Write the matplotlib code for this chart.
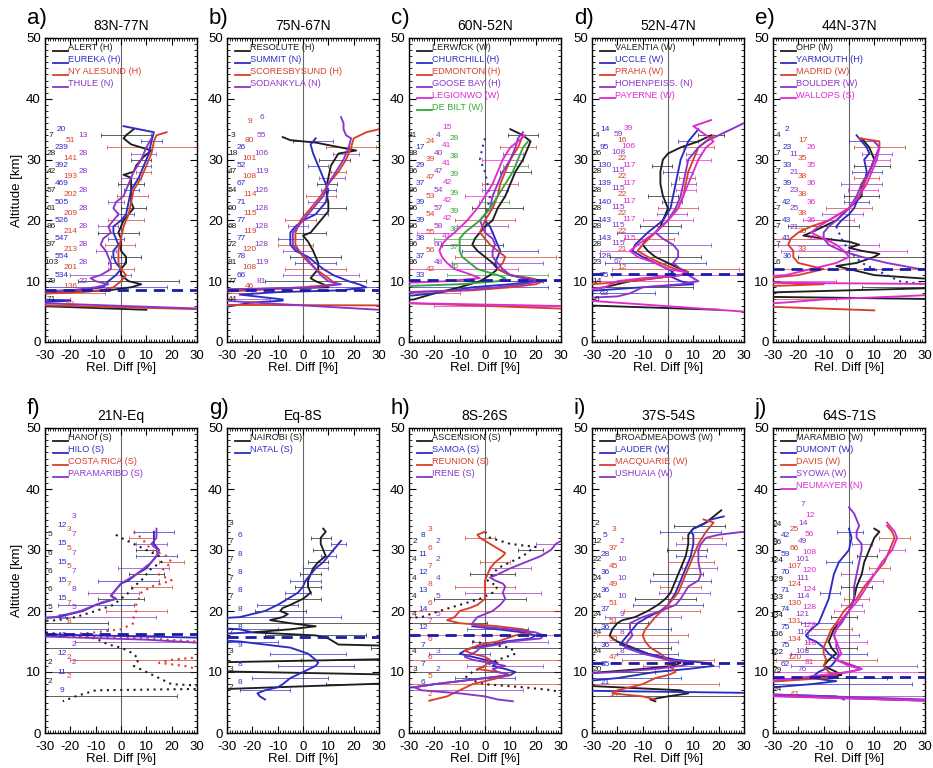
import numpy as np
import matplotlib
matplotlib.use("Agg")
import matplotlib.pyplot as plt
from matplotlib.ticker import MultipleLocator

plt.rcParams['font.family'] = ['Liberation Sans', 'DejaVu Sans']
plt.rcParams['axes.unicode_minus'] = False

K = '#1e1e1e'; B = '#2c2cc4'; R = '#d8402c'; P = '#8a35c8'; M = '#e02ad0'; G = '#33a83a'

# ---------------- panel a: 83N-77N ----------------
STA_A = ["ALERT (H)", "EUREKA (H)", "NY ALESUND (H)", "THULE (N)"]
ALERT = [(35,5),(34,2),(33.5,1),(32.5,4),(31.5,12),(30.5,9),(29,6),(28,5),(27.5,1),(27,4),(25,4),(23,4),(22,5),(21,3),(20,1),(18,-1),(17,0),(15,0),(14,2),(13,2),(12,0),(11,0),(10,3),(9.5,8),(9,4),(8.5,-5),(8,-30),(7.5,-45),(6.1,-45),(5.3,10)]
EUREKA = [(35.5,1),(35,7),(34.5,13),(33,12),(31,11),(29,9),(27,7),(25,4),(23,3),(21,2),(20,0),(19,-3),(18,-3),(17,-2),(16,-1),(15,-3),(14,-3),(13,-2),(12,0),(11,-2),(10,-5),(9,-7),(8.6,-15),(8.3,-30),(8,-45),(7.2,-45),(6.8,-20),(6.2,-45)]
NYALESUND = [(34.5,18),(34,14),(33,13),(31,12),(29,10),(27,8),(25,5),(23,4),(21,3),(19,1),(17,0),(15,-1),(13,-1),(12,0),(11,2),(10,0),(9,-3),(8.5,-8),(8.1,-20),(7.8,-45),(6.2,-45),(5.4,30),(5.3,45)]
THULE = [(33.5,12),(32,10),(30,8),(28,5),(26,3),(24,1),(23,-2),(22,-3),(21,-1),(20,-3),(19,-5),(18,-4),(17,-7),(16,-8),(15,-6),(14,-5),(13,-4),(12,-4),(11,-8),(10.5,-12),(10,-10),(9.5,-5),(9,-10),(8.5,-20),(8.2,-45),(6.5,-45),(6.3,-25),(5.3,45)]
N_A = [[7,28,42,57,61,86,97,103,79,71],[20,239,392,469,505,526,547,554,534],[51,141,193,202,209,214,213,201,136,63],[13,28,28,28,28,28,28,28,22]]
NX_A = [-27.5,-23.5,-20,-15]
NY_A = [34,35,33.2,34]
ERR_A = [10,4,18,5,4,3,3,4,5,3,6,3,5,3,7,4,8,3,6,4,6,3,5,12,20,25,22,25,30]

# ---------------- panel b: 75N-67N ----------------
STA_B = ["RESOLUTE (H)", "SUMMIT (N)", "SCORESBYSUND (H)", "SODANKYLA (N)"]
RESOLUTE = [(33.7,-8),(33.2,-5),(32.8,5),(31.5,21),(31,14),(29,11),(27,10),(25,9),(23,10),(21.5,10),(20.5,8),(19,5),(18,3),(17.5,0),(16.5,2),(15,4),(13,6),(12,6),(11,4),(10.5,3),(10,5),(9.5,8),(9,10),(8.8,-10),(8.5,-45)]
SUMMIT = [(33.5,5),(32.5,3),(31,4),(29,6),(27,8),(25,10),(23,9),(21,5),(20,0),(19,-3),(18,-5),(17,-5),(16,-5),(15,-3),(14,2),(13,5),(12,8),(11,12),(10,18),(9.5,22),(9,25),(8.5,15),(8.2,-10),(7.8,-25),(7,-8),(6.8,-8),(6.5,-20),(5.8,-30)]
SCORESBY = [(35,30),(34.5,25),(33.5,20),(32,19),(30,17),(28,14),(26,10),(24,7),(22,3),(20,-1),(18,-3),(16,-3),(14,0),(12,5),(10.5,10),(9.5,13),(9,0),(8.5,-20),(8,-45),(6.3,-45),(6.1,-30),(6.0,45)]
SODANKYLA = [(37,15),(36,16),(35,16),(34,17),(33.5,19),(32,18),(30,16),(28,13),(26,10),(24,8),(22,4),(20,0),(19,-2),(18,-4),(17,-4),(16,-4),(15,-2),(14,1),(12,5),(11,7),(10,10),(9.5,15),(9,5),(8.5,-45),(7.2,-45),(6.5,-20),(5.3,30)]
N_B = [[3,18,47,54,60,68,72,81,77,44],[26,52,67,71,77,77,78,66],[9,80,101,108,114,115,119,120,108,46,23],[6,55,106,119,126,128,128,128,119,81]]
NX_B = [-27.8,-24.3,-21,-16.3]
NY_B = [34,32,36.2,37]
ERR_B = [6,8,10,5,6,4,3,5,4,3,6,4,7,5,6,4,6,5,7,6,10,8,12,15,20,22,25,25,30]

# ---------------- panel c: 60N-52N ----------------
STA_C = ["LERWICK (W)", "CHURCHILL (H)", "EDMONTON (H)", "GOOSE BAY (H)", "LEGIONWO (W)", "DE BILT (W)"]
LERWICK = [(35,10),(34,15),(33,18),(32,17),(30,15),(28,12),(26,10),(24,8),(22,5),(20,3),(19,0),(18,-2),(17,-4),(16,-5),(15,-3),(14,0),(13,3),(12,5),(11,2),(10,-2),(9,-10),(8,-20),(7,-28),(6.5,-45)]
CHURCHILL_UP = [(33.5,0),(32,-1),(30,-2),(28,0),(26,1),(24,2),(22,1),(20,0)]
CHURCHILL = [(20,0),(19,2),(18,3),(17,4),(16,5),(15,6),(14,5),(13,4),(12,5),(11,10),(10.5,15),(10,20),(9.5,10),(9,-5),(8,-20),(7,-45)]
EDMONTON = [(34,15),(32,13),(30,10),(28,8),(26,6),(24,5),(22,3),(20,0),(18,-2),(17,0),(16,2),(15,5),(14,8),(13,7),(12,5),(11,10),(10.5,18),(10,23),(9.5,20),(9,10),(8.5,-5),(8,-45),(6.6,-45),(5.5,30)]
GOOSEBAY = [(34.5,15),(33.5,13),(32,12),(30,10),(28,7),(26,5),(24,3),(22,2),(21,0),(20,-2),(19,-1),(18,0),(17,3),(16,4),(15,3),(14,3),(13,5),(12,7),(11,10),(10,22),(9.5,15),(9,5),(8.5,-10),(8,-45)]
LEGIONWO = [(34,16),(33,13),(32,10),(30,7),(28,5),(26,3),(24,0),(22,-3),(20,-7),(18,-12),(17,-15),(16,-17),(15,-18),(14,-17),(13,-15),(12,-12),(11,-5),(10.5,-2),(10,-15),(9.5,-45),(6.5,-45),(6,20),(5.8,45)]
DEBILT = [(33,17),(32,15),(30,13),(28,11),(26,8),(24,5),(22,2),(20,-2),(19,-5),(18,-8),(17,-10),(16,-10),(15,-10),(14,-9),(13,-6),(12,-3),(11,5),(10.5,8),(10,5),(9.5,-10),(9,-45)]
N_C = [[31,88,96,96,96,96,96,86],[17,29,37,39,39,38,37,33],[24,39,47,53,54,55,56,42],[4,40,47,54,57,58,60,48],[15,41,41,42,42,42,41],[28,38,39,39,39,38,37,26]]
NX_C = [-28.5,-25.5,-21.5,-18.5,-15,-12]
NY_C = [34,32,33,34,35.3,33.5]
ERR_C = [6,5,7,4,8,5,6,4,7,5,8,6,10,8,12,10,15,10,12,15,20,18,25,20,25,30,35,40,40]

# ---------------- panel d: 52N-47N ----------------
STA_D = ["VALENTIA (W)", "UCCLE (W)", "PRAHA (W)", "HOHENPEISS. (N)", "PAYERNE (W)"]
VALENTIA = [(34,17),(33,12),(32,5),(31,0),(30,-2),(28,-3),(26,-3),(24,-2),(22,0),(20,-2),(19,-3),(18,-5),(17,-8),(16,-10),(15,-8),(14,-5),(13,0),(12,5),(11.5,8),(11,5),(10.5,-5),(10,-15),(9,-25),(8,-45),(6.2,-45),(5.3,20)]
UCCLE = [(35,12),(34,10),(33,8),(32,7),(30,5),(28,4),(26,3),(24,2),(22,1),(20,-2),(18,-8),(16,-13),(15,-14),(14,-10),(13,-5),(12,0),(11.5,2),(11,0),(10,5),(9.5,10),(9,-10),(8,-45)]
PRAHA = [(34,18),(33,15),(32,12),(30,10),(28,8),(26,7),(24,6),(22,4),(20,0),(18,-5),(16,-10),(15,-12),(14,-8),(13,-3),(12,3),(11.5,8),(11,5),(10.5,-5),(10,-15),(9,-45)]
HOHENP = [(36,30),(35,25),(34,20),(33,15),(32,12),(30,8),(28,7),(26,6),(24,5),(22,3),(20,0),(18,-5),(17,-2),(16,2),(15,4),(14,4),(13,2),(12,5),(11,8),(10,12),(9.5,5),(9,-10),(8,-15),(7.5,-20),(7,-45)]
PAYERNE = [(36.5,17),(35.5,10),(34,15),(33,18),(32,15),(30,12),(28,10),(26,8),(24,6),(22,4),(20,0),(18,-5),(16,-12),(15,-15),(14,-12),(13,-5),(12,0),(11.5,7),(11,5),(10.5,-10),(10,-20),(9,-25),(8,-45),(7.2,-45),(5,30)]
N_D = [[4,26,28,28,28,28,28,23,14,6],[14,95,130,139,140,143,143,128,75,63],[16,22,22,22,22,22,21,12],[59,108,115,115,115,115,115,67],[39,106,117,117,117,117,115]]
NX_D = [-28,-25,-18,-19.5,-15.5]
NY_D = [34,35,33.2,34.2,35.1]
ERR_D = [5,4,6,3,5,4,6,3,5,4,6,4,8,6,10,8,12,10,15,12,18,20,25,30,30,35,40,40,40]

# ---------------- panel e: 44N-37N ----------------
STA_E = ["OHP (W)", "YARMOUTH (H)", "MADRID (W)", "BOULDER (W)", "WALLOPS (S)"]
OHP = [(33.5,5),(32,8),(30,10),(28,8),(26,5),(24,5),(22,0),(20,-5),(19,-10),(18,-15),(17.5,-18),(17,-10),(16.5,0),(16,4),(15.5,0),(15,5),(14.5,12),(14,10),(13,3),(12.5,-5),(12,0),(11,10),(10,45),(9,45),(8,-45),(7.5,-45),(7,45)]
YARMOUTH = [(34,3),(33,5),(32,7),(31,8),(30,6),(28,7),(26,6),(24,4),(22,2),(21,0),(20,-3),(19,-5)]
YARMOUTH_LOW = [(19,-5),(17,-3),(15,0),(13,5),(12,10),(11,15),(10,20),(9.5,30)]
MADRID = [(33.5,4),(33,12),(32,12),(30,10),(28,8),(26,6),(24,4),(22,0),(20,-8),(19,-15),(18,-20),(17,-23),(16,-24),(15,-22),(14,-22),(13,-20),(12.5,-15),(12,-10),(11,-20),(10,-45),(9.5,-10),(9,-45),(6,-45),(5.2,10)]
BOULDER = [(33,10),(32,12),(30,10),(28,8),(26,5),(24,3),(22,0),(20,-5),(19,-8),(18,-10),(17,-10),(16,-8),(15,-3),(14,5),(13,15),(12,28),(11.5,45)]
WALLOPS = [(32,12),(30,11),(28,9),(26,7),(24,4),(22,0),(20,-8),(19,-12),(18,-15),(17,-10),(16,-5),(15,-2),(14,0),(13,-5),(12,-15),(11,-25),(10.5,-45),(9.8,-45),(9.5,45),(8,45),(7.5,20),(7,-10),(6.5,-25),(6,-45)]
N_E = [[4,7,7,7,7,7,7,6],[2,23,33,39,42,43,41,36],[17,35,38,38,38,35,33],[11,21,23,25,21],[26,35,36,36,36,33]]
NX_E = [-28,-24.5,-18.3,-21.6,-15]
NY_E = [34,35,33.2,30.9,32]
ERR_E = [8,5,10,6,5,7,6,5,8,6,7,5,9,8,10,14,12,16,20,25,30,35,40,40,40,40,40,40,40]

# ---------------- panel f: 21N-Eq ----------------
STA_F = ["HANOI (S)", "HILO (S)", "COSTA RICA (S)", "PARAMARIBO (S)"]
HANOI = [(32.5,-2),(32,0),(31,5),(30,10),(29,15),(28,16),(27,12),(26,10),(25,8),(24,5),(23,3),(22,0),(21,-3),(20,-10),(19,-18),(18.5,-25),(18,-45),(17,-45),(16.5,-30),(16,-20),(15.5,-10),(14.5,-5),(14,0),(13,5),(12,7),(11,5),(10,10),(9,15),(8,20),(7.5,45),(7.3,45),(7,-10),(6,-18),(5.2,-23)]
HILO = [(33,13),(32,13),(31,13),(30.5,14),(30,15),(29,14),(28,12),(27,10),(26,6),(25,3),(24.5,0),(24,-1),(23.5,-2),(23,-3),(22.5,-4),(22,-2),(21.5,-6),(21,-10),(20,-15),(19.5,-20),(19,-25),(18.5,-45),(16.3,-45),(15.5,45)]
COSTARICA = [(33,5),(32,8),(31,10),(30,12),(29,18),(28,20),(27,17),(26,15),(25,20),(24,12),(23,8),(22,7),(21,6),(20,6),(19,5),(18,5),(17,0),(16.5,-10),(16,-25),(15.5,10),(15,30),(14.5,45),(13,45),(12,20),(11.5,15),(11,25),(10.5,30),(10,45)]
PARAMARIBO = [(33.5,14),(32,14),(31,12),(30.5,13),(30,15),(29,14),(28,12),(27,9),(26,6),(25,2),(24.5,0),(24,-1),(23,-3),(22.5,-4),(22,-2),(21.5,-7),(21,-10),(20,-16),(19.5,-21),(19,-26),(18.5,-45),(16,-45),(15.3,10),(14.8,30),(14.5,45)]
N_F = [[5,6,6,6,5,None,None,2,2],[12,15,15,15,15,15,13,12,11,9],[3,5,5,7,7,8,None,2,2],[3,7,7,7,8,5,None,2,2]]
NX_F = [-28,-23.4,-20.7,-18.5]
NY_F = [32.5,34,33.3,35.5]
ERR_F = [10,8,5,6,4,8,5,10,7,12,8,10,9,15,12,40,40,40,40,40,40,12,40,10,40,8,40,40,40]

# ---------------- panel g: Eq-8S ----------------
STA_G = ["NAIROBI (S)", "NATAL (S)"]
NAIROBI = [(33.5,8),(33,9),(32.5,8),(32,7),(31,7),(30,8),(29,9),(28,6),(27,4),(26,3),(25,2),(24,2),(23,3),(22,0),(21,-5),(20.5,-8),(20,-9),(19.5,-6),(19,-8),(18.5,-13),(18,-5),(17.5,5),(17,-5),(16.5,-20),(16,5),(15.5,10),(15,12),(14.5,14),(14.2,45),(12.2,45),(11.5,-45),(10.2,-45),(9.5,45),(8.3,45),(7.0,-45),(6.5,-45)]
NATAL = [(31.5,15),(31,14),(30,12),(29,10),(28,8),(27,5),(26,3),(25,1),(24,0),(23,-2),(22,-6),(21,-10),(20,-15),(19.5,-20),(19,-25),(18.5,-45),(17.5,-45),(17,-25),(16.5,-20),(16,-45),(15.5,-45),(15,-25),(14,-5),(13,2),(12,5),(11.5,6),(11,5),(10,0),(9,-5),(8,-8),(7.5,-10),(7,-15),(6.5,-18),(6,-17),(5.5,-15)]
N_G = [[3,7,7,7,7,None,7,3,3,2],[6,8,8,8,8,8,9,8,8]]
NX_G = [-28.4,-25]
NY_G = [34.4,32.3]
ERR_G = [12,5,4,3,4,3,4,5,4,6,5,5,7,8,10,40,40,15,20,15,18,15,20,15,20,15,15,10,10]

# ---------------- panel h: 8S-26S ----------------
STA_H = ["ASCENSION (S)", "SAMOA (S)", "REUNION (S)", "IRENE (S)"]
ASCENSION = [(33,0),(32,2),(31,10),(30.5,20),(30,18),(29,15),(28,10),(27,5),(26,3),(25,1),(24,5),(23,3),(22,-2),(21,-10),(20,-18),(19,-25),(18.5,-45),(17,None),(15,-5),(14,10),(13,12),(12,5),(11,0),(10,-5),(9,-8),(8,0),(7.5,15),(7,27),(6.5,30)]
SAMOA = [(17.5,-5),(17,5),(16.5,15),(16,20),(15.5,18),(15,8),(14.5,3),(14,-5),(13.5,-8),(13,-10),(12.5,-5),(12,0),(11.5,5),(11,3),(10.5,8),(10,12),(9.5,10),(9,0),(8.5,-10),(8,-20),(7.5,-28),(7,-45)]
REUNION = [(33,0),(32.5,-3),(32,-2),(31,2),(30,6),(29.5,8),(29,7),(28,4),(27,2),(26,1),(25,0),(24,0),(23,0),(22,0),(21,-3),(20.5,-6),(20,-10),(19,-12),(18.5,-15),(18,-10),(17.5,5),(17,15),(16.5,18),(16,12),(15,5),(14.5,-2),(14,-5),(13.5,-8),(13,-5),(12.5,0),(12,2),(11,0),(10.5,-3),(10,5),(9.5,10),(9,5),(8.5,0),(8,-5),(7,-10),(6,-15),(5.5,-20),(5.3,-22)]
IRENE = [(31.5,30),(31,28),(30.5,27),(30,26),(29,22),(28,16),(27,10),(26,5),(25.5,2),(25,4),(24.5,7),(24,8),(23,7),(22,8),(21,6),(20,3),(19,-3),(18,-5),(17.5,-3),(17,10),(16.5,20),(16,23),(15.5,22),(15,10),(14.5,5),(14,-2),(13.5,-3),(13,-5),(12.5,-8),(12,-5),(11.5,2),(11,8),(10.5,3),(10,5),(9.5,10),(9,0),(8.5,-10),(8,-20),(7.5,-28),(7,-25),(6.5,-10),(6,0),(5.5,5),(5.2,11)]
N_H = [[2,4,4,4,4,None,4,3],[8,11,12,13,14,12,7,7,6],[3,6,7,8,6,7,6,6,5,2],[2,2,4,5,5,None,3,2]]
NX_H = [-27.8,-24.5,-21.9,-18.5]
NY_H = [31.4,32.3,33.3,31.4]
ERR_H = [8,10,6,8,5,7,6,8,9,10,12,15,18,20,40,40,40,12,40,15,40,12,40,15,40,12,40,40,30]

# ---------------- panel i: 37S-54S ----------------
STA_I = ["BROADMEADOWS (W)", "LAUDER (W)", "MACQUARIE (W)", "USHUAIA (W)"]
BROADM = [(36.5,21),(35.5,18),(34.5,15),(33.5,10),(32.5,8),(31,8),(29,7),(27,5),(25,3),(23,1),(22,-1),(21,-4),(20,-8),(19,-13),(18.5,-18),(18,-20),(17,-22),(16,-23),(15.5,-22),(15,-20),(14,-14),(13,-8),(12,0),(11.5,5),(11,2),(10.5,-10),(10,-25),(9.5,-45),(8,-45),(7,5),(6.5,8),(6,0),(5.5,-7),(5.2,-5)]
LAUDER = [(35.5,22),(35,17),(34,13),(33.5,10),(33,9),(32.5,10),(31,10),(29,9),(27,7),(25,5),(23,3),(21,0),(20,-3),(19,-8),(18,-12),(17,-14),(16,-16),(15,-18),(14.5,-19),(14,-15),(13,-8),(12,3),(11.5,15),(11,18),(10.5,8),(10,-5),(9,-20),(8,-45),(7,-45),(6.5,45),(5.5,45),(5,30)]
MACQUARIE = [(35,14),(34.5,18),(34,17),(33,15),(31,12),(29,10),(27,8),(25,6),(23,4),(21,0),(19,-5),(18,-7),(17,-9),(16,-10),(15,-9),(14,-7),(13,-3),(12,0),(11.5,3),(11,0),(10.5,2),(10,3),(9.5,0),(9,-5),(8,-10),(7,-20),(6.5,-22),(6,-10),(5.5,-5)]
USHUAIA = [(33,30),(32.5,20),(32,15),(31,13),(30,12),(28,12),(26,13),(25,12),(24,8),(22,5),(21,3),(20,-3),(19,-10),(18,-15),(17,-15),(16,-14),(15,-16),(14,-17),(13,-10),(12,0),(11.5,10),(11,5),(10.5,-5),(10,-20),(9.5,-45)]
N_I = [[2,12,22,24,24,24,24,24,20],[5,28,36,36,37,36,36,35,21],[3,37,45,49,51,51,50,47,None,14],[2,10,10,10,9,8,8]]
NX_I = [-28,-24.7,-21.4,-18]
NY_I = [34.4,32.3,33.3,31.4]
ERR_I = [10,12,8,10,8,6,9,7,10,12,8,10,12,14,15,15,12,15,18,20,15,12,18,15,20,25,30,35,30]

# ---------------- panel j: 64S-71S ----------------
STA_J = ["MARAMBIO (W)", "DUMONT (W)", "DAVIS (W)", "SYOWA (W)", "NEUMAYER (N)"]
MARAMBIO = [(33.5,10),(33,12),(32,10),(30,8),(28,6),(26,5),(24,3),(22,2),(20,0),(19,-2),(18,-4),(17,-6),(16,-7),(15,-8),(14,-7),(13,-5),(12,-8),(11,-10),(10,-5),(9.5,-3),(9,-15),(8,-45),(6.3,-45),(5.3,30)]
DUMONT = [(33.5,0),(32,1),(30,0),(29,-2),(28,-4),(27,-5),(26,-6),(24,-7),(22,-8),(20,-10),(18,-12),(17,-15),(16,-17),(15.5,-16),(15,-13),(14,-10),(13,-8),(12,-5),(11,-7),(10,-12),(9,-15),(8.5,-5),(8,-15),(7,-45),(6.5,-45),(6,-5),(5.5,-2)]
DAVIS = [(34,15),(33,17),(32,18),(31,17),(30,16),(28,14),(26,10),(24,6),(22,3),(20,-2),(18,-5),(17,-7),(16,-8),(15,-9),(14,-10),(13,-10),(12,-9),(11,-10),(10,-8),(9.5,-5),(9,-10),(8,-45)]
SYOWA = [(37,0),(36,2),(35,3),(34,4),(33,3),(32,3),(31,5),(30,5),(28,4),(26,3),(24,2),(22,2),(20,0),(18,-3),(17,-5),(16,-6),(15,-5),(14,-5),(13,-4),(12,-5),(11,2),(10.5,5),(10,0),(9.5,-10),(9,-20),(8,-45),(6.5,-45),(5.5,30)]
NEUMAYER = [(34.5,15),(34,16),(33,18),(32,19),(31,18),(30,17),(28,13),(26,10),(24,7),(22,4),(20,0),(18,-4),(17,-5),(16,-6),(15,-5),(14,-4),(13,-3),(12,-5),(11,0),(10.5,5),(10,0),(9.5,-10),(9,-20),(8,-45),(6.2,-45),(5.3,30)]
N_J = [[24,86,124,129,133,134,136,122,79,24],[42,59,70,71,74,75,75,62],[25,66,107,124,130,131,134,120,None,42],[7,14,49,101,111,114,121,116,108,76],[12,56,108,120,124,128,128,118,81]]
NX_J = [-28.5,-25,-21.5,-18.3,-15.5]
NY_J = [34.2,32.3,33.3,37.4,35.6]
ERR_J = [6,5,6,4,5,4,5,4,6,5,6,4,5,4,6,5,7,8,10,12,10,15,20,25,30,30,40,40,40]

TROPO = [8.5, 8.5, 10.2, 11.2, 12.0, 16.2, 15.8, 16.0, 11.5, 9.2]
LABELS = ['a)', 'b)', 'c)', 'd)', 'e)', 'f)', 'g)', 'h)', 'i)', 'j)']
TITLES = ['83N-77N', '75N-67N', '60N-52N', '52N-47N', '44N-37N', '21N-Eq', 'Eq-8S', '8S-26S', '37S-54S', '64S-71S']
ERR_ALTS = list(range(34, 5, -1))

SOLID, DOT = '-', ':'
PANELS = [
    dict(names=STA_A, cols=[K, B, R, P], lines=[(ALERT, 0, SOLID), (EUREKA, 1, SOLID), (NYALESUND, 2, SOLID), (THULE, 3, SOLID)], nums=N_A, nx=NX_A, ny=NY_A, err=ERR_A),
    dict(names=STA_B, cols=[K, B, R, P], lines=[(RESOLUTE, 0, SOLID), (SUMMIT, 1, SOLID), (SCORESBY, 2, SOLID), (SODANKYLA, 3, SOLID)], nums=N_B, nx=NX_B, ny=NY_B, err=ERR_B),
    dict(names=STA_C, cols=[K, B, R, P, M, G], lines=[(LERWICK, 0, SOLID), (CHURCHILL, 1, SOLID), (CHURCHILL_UP, 1, DOT), (EDMONTON, 2, SOLID), (GOOSEBAY, 3, SOLID), (LEGIONWO, 4, SOLID), (DEBILT, 5, SOLID)], nums=N_C, nx=NX_C, ny=NY_C, err=ERR_C),
    dict(names=STA_D, cols=[K, B, R, P, M], lines=[(VALENTIA, 0, SOLID), (UCCLE, 1, SOLID), (PRAHA, 2, SOLID), (HOHENP, 3, SOLID), (PAYERNE, 4, SOLID)], nums=N_D, nx=NX_D, ny=NY_D, err=ERR_D),
    dict(names=STA_E, cols=[K, B, R, P, M], lines=[(OHP, 0, SOLID), (YARMOUTH, 1, SOLID), (YARMOUTH_LOW, 1, DOT), (MADRID, 2, SOLID), (BOULDER, 3, SOLID), (WALLOPS, 4, SOLID)], nums=N_E, nx=NX_E, ny=NY_E, err=ERR_E),
    dict(names=STA_F, cols=[K, B, R, P], lines=[(HANOI, 0, DOT), (COSTARICA, 2, DOT), (HILO, 1, SOLID), (PARAMARIBO, 3, SOLID)], nums=N_F, nx=NX_F, ny=NY_F, err=ERR_F),
    dict(names=STA_G, cols=[K, B], lines=[(NAIROBI, 0, SOLID), (NATAL, 1, SOLID)], nums=N_G, nx=NX_G, ny=NY_G, err=ERR_G),
    dict(names=STA_H, cols=[K, B, R, P], lines=[(ASCENSION, 0, DOT), (SAMOA, 1, SOLID), (REUNION, 2, SOLID), (IRENE, 3, SOLID)], nums=N_H, nx=NX_H, ny=NY_H, err=ERR_H),
    dict(names=STA_I, cols=[K, B, R, P], lines=[(BROADM, 0, SOLID), (LAUDER, 1, SOLID), (MACQUARIE, 2, SOLID), (USHUAIA, 3, SOLID)], nums=N_I, nx=NX_I, ny=NY_I, err=ERR_I),
    dict(names=STA_J, cols=[K, B, R, P, M], lines=[(MARAMBIO, 0, SOLID), (DUMONT, 1, SOLID), (DAVIS, 2, SOLID), (SYOWA, 3, SOLID), (NEUMAYER, 4, SOLID)], nums=N_J, nx=NX_J, ny=NY_J, err=ERR_J),
]


def to_arr(prof):
    return np.array([(a, np.nan if d is None else d) for a, d in prof], dtype=float)


fig = plt.figure(figsize=(9.33, 7.68), dpi=100)
W, H = 933.0, 768.0
lefts = [45, 227, 409, 592, 773]
rows = [(38, 342), (428, 733)]

for idx, p in enumerate(PANELS):
    r, c = divmod(idx, 5)
    top, bot = rows[r]
    ax = fig.add_axes([lefts[c] / W, 1 - bot / H, 152 / W, (bot - top) / H])
    ax.set_xlim(-30, 30)
    ax.set_ylim(0, 50)
    ax.axvline(0, color='#666666', lw=0.8, zorder=1)

    # error bars, cycling through stations
    n = len(p['names'])
    main = {}
    for prof, ci, ls in p['lines']:
        if ci not in main:
            main[ci] = to_arr(prof)
    for k, (alt, hw) in enumerate(zip(ERR_ALTS, p['err'])):
        ci = k % n
        arr = main[ci]
        arr = arr[~np.isnan(arr[:, 1])]
        if alt > arr[:, 0].max() or alt < arr[:, 0].min():
            continue
        order = np.argsort(arr[:, 0])
        cx = np.interp(alt, arr[order, 0], arr[order, 1])
        ax.errorbar([cx], [alt], xerr=[hw], fmt='none', ecolor=p['cols'][ci],
                    elinewidth=0.7, capsize=1.6, capthick=0.7, alpha=0.7, zorder=2)

    for prof, ci, ls in p['lines']:
        arr = to_arr(prof)
        if ls == DOT:
            ax.plot(arr[:, 1], arr[:, 0], color=p['cols'][ci], lw=1.5, ls=(0, (1, 2.2)), zorder=3)
        else:
            ax.plot(arr[:, 1], arr[:, 0], color=p['cols'][ci], lw=1.35, zorder=3)

    ax.axhline(TROPO[idx], color='#1c1caa', lw=2.0, ls=(0, (4, 2.5)), zorder=5)

    # legend
    for i, (name, col) in enumerate(zip(p['names'], p['cols'])):
        y = 48.4 - 1.95 * i
        ax.plot([-26.7, -21.0], [y - 0.55, y - 0.55], color=col, lw=1.3, zorder=6)
        ax.text(-20.8, y, name, color=col, fontsize=6.6, va='center', ha='left', zorder=6)

    # sample numbers
    for vals, x0, y0, col in zip(p['nums'], p['nx'], p['ny'], p['cols']):
        for j, v in enumerate(vals):
            if v is None:
                continue
            ax.text(x0, y0 - 3.0 * j, str(v), color=col, fontsize=6.0,
                    ha='center', va='center', zorder=4)

    ax.xaxis.set_major_locator(MultipleLocator(10))
    ax.xaxis.set_minor_locator(MultipleLocator(1))
    ax.yaxis.set_major_locator(MultipleLocator(10))
    ax.yaxis.set_minor_locator(MultipleLocator(1))
    ax.tick_params(which='both', direction='in', top=True, right=True, labelsize=9.5)
    ax.tick_params(which='major', length=5, width=0.8, pad=3)
    ax.tick_params(axis='x', which='major', pad=6)
    ax.tick_params(which='minor', length=2.2, width=0.6)
    for s in ax.spines.values():
        s.set_linewidth(1.0)
    ax.set_xlabel('Rel. Diff [%]', fontsize=9.5, labelpad=0)
    if c == 0:
        ax.set_ylabel('Altitude [km]', fontsize=9.5, labelpad=2)
    ax.set_title(TITLES[idx], fontsize=10, pad=6)
    ax.text(-0.12, 1.03, LABELS[idx], transform=ax.transAxes, fontsize=16, va='bottom', ha='left')

fig.savefig('out.png', dpi=100)
